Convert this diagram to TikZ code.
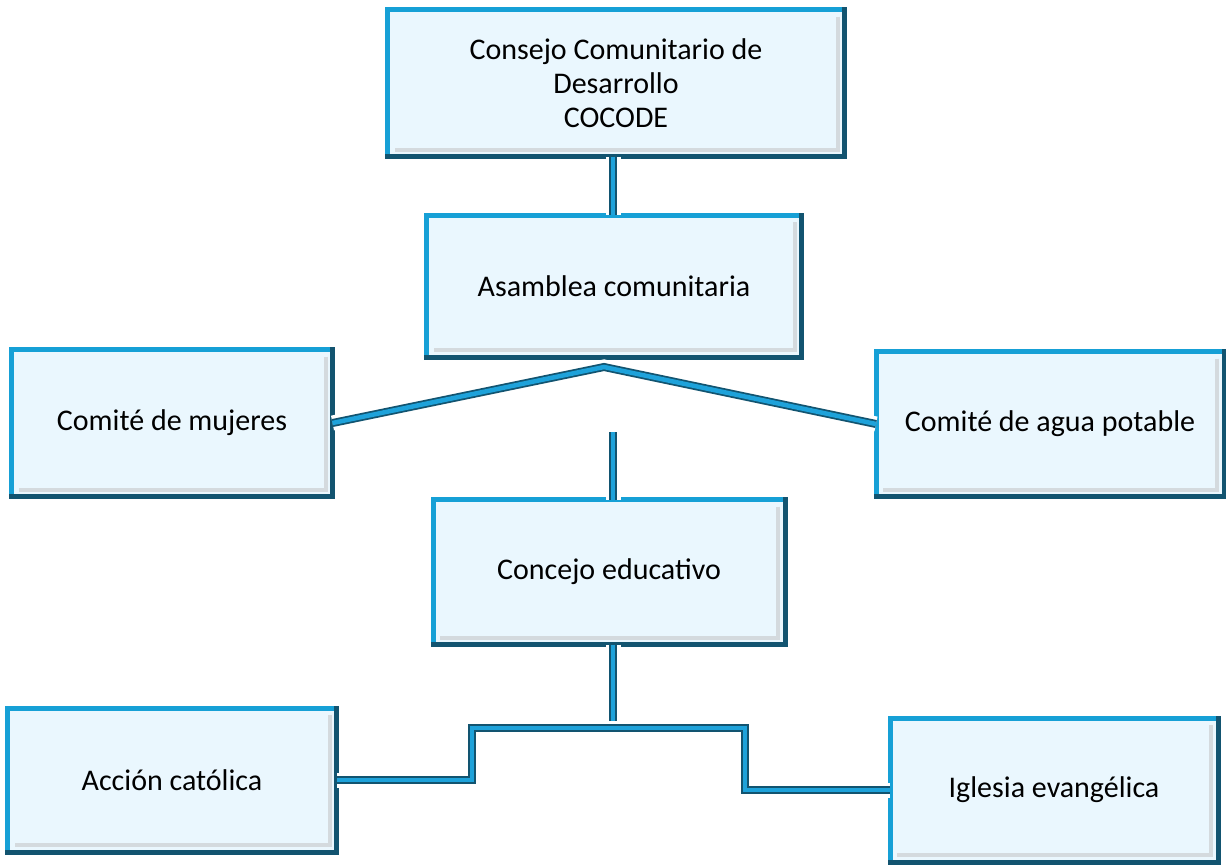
\documentclass[tikz,border=0pt]{standalone}
\usepackage{fontspec}
\setmainfont{Carlito}
\usetikzlibrary{calc}
\definecolor{boxfill}{RGB}{234,247,254}
\definecolor{boxblue}{RGB}{22,160,214}
\definecolor{boxdark}{RGB}{18,84,112}
\definecolor{linkblue}{RGB}{30,162,218}

\begin{document}
\begin{tikzpicture}[x=1pt,y=-1pt,
  orgbox/.style={draw=boxblue, line width=5pt, fill=boxfill, outer sep=0pt, align=center, inner sep=4pt, font=\fontsize{30}{34}\selectfont},
  boxedge/.style={draw=boxdark, line width=5pt, line cap=rect},
  bevel/.style={draw=black!25, line width=4pt, opacity=0.5},
  link/.style={draw=boxdark, line width=8pt, preaction={draw=white, line width=15pt}, postaction={draw=linkblue, line width=4.5pt}}]
			%%%%% FRAME %%%%%
			\fill[white] (0,0) rectangle (1226,865);
			\useasboundingbox (0,0) rectangle (1226,865);

			%%%%% BOXES %%%%%
			\node[orgbox, minimum width=457, minimum height=147] (cocode) at (616,83) {Consejo Comunitario de\\Desarrollo\\COCODE};
			\node[orgbox, minimum width=375, minimum height=142] (asamblea) at (614,286) {Asamblea comunitaria};
			\node[orgbox, minimum width=321, minimum height=147] (mujeres) at (172,423) {Comité de mujeres};
			\node[orgbox, minimum width=348, minimum height=145] (agua) at (1050,424) {Comité de agua potable};
			\node[orgbox, minimum width=352, minimum height=145] (educativo) at (609,572) {Concejo educativo};
			\node[orgbox, minimum width=329, minimum height=144] (accion) at (172,780) {Acción católica};
			\node[orgbox, minimum width=328, minimum height=144] (iglesia) at (1054,790) {Iglesia evangélica};

			\foreach \n in {cocode,asamblea,mujeres,agua,educativo,accion,iglesia}{
				\draw[bevel] ($(\n.north east)+(-7,7)$) -- ($(\n.south east)+(-7,-7)$) -- ($(\n.south west)+(7,-7)$);
				\draw[boxedge] (\n.north east) -- (\n.south east) -- (\n.south west);
			}

			%%%%% LINKS %%%%%
			\coordinate (apex) at (604,367);
			\coordinate (edtop) at (613,432);
			\coordinate (split) at (613,728);
			\coordinate (stepL) at (472,728);
			\coordinate (stepR) at (745,728);

			\draw[link] (cocode.south -| 613,0) -- (asamblea.north -| 613,0);
			\draw[link] (mujeres.east) -- (apex) -- (agua.west);
			\draw[link] (edtop) -- (edtop |- educativo.north);
			\draw[link] (educativo.south -| split) -- (split);
			\draw[link] (split) -- (stepL) |- (accion.east);
			\draw[link] (split) -- (stepR) |- (iglesia.west);

			%%%%% END %%%%%
\end{tikzpicture}
\end{document}
